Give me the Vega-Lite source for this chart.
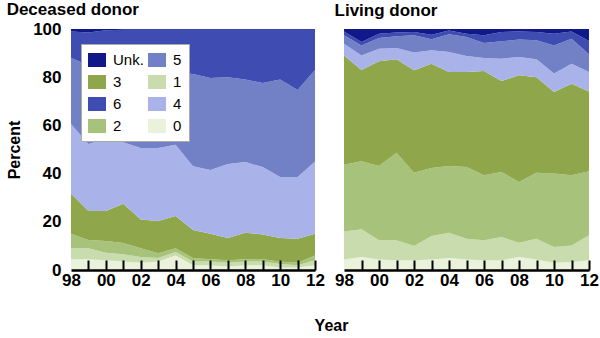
{
"$schema": "https://vega.github.io/schema/vega-lite/v6.json",
"padding": {"left": 6, "top": 1, "right": 5, "bottom": 5},
"background": "white",
"bounds": "flush",
"config": {"font": "Liberation Sans, Arial, sans-serif", "view": {"stroke": null}, "concat": {"spacing": 29}},
"data": {"values": [
{"p":"D","y":1998,"c":"0","v":4.5},{"p":"D","y":1998,"c":"1","v":4.5},{"p":"D","y":1998,"c":"2","v":6},{"p":"D","y":1998,"c":"3","v":16.7},{"p":"D","y":1998,"c":"4","v":28.9},{"p":"D","y":1998,"c":"5","v":27.4},{"p":"D","y":1998,"c":"6","v":11},{"p":"D","y":1998,"c":"Unk.","v":1},
{"p":"D","y":1999,"c":"0","v":4.5},{"p":"D","y":1999,"c":"1","v":4.5},{"p":"D","y":1999,"c":"2","v":3.4},{"p":"D","y":1999,"c":"3","v":12.1},{"p":"D","y":1999,"c":"4","v":27.8},{"p":"D","y":1999,"c":"5","v":32.7},{"p":"D","y":1999,"c":"6","v":13.5},{"p":"D","y":1999,"c":"Unk.","v":1.5},
{"p":"D","y":2000,"c":"0","v":4},{"p":"D","y":2000,"c":"1","v":3.2},{"p":"D","y":2000,"c":"2","v":4.8},{"p":"D","y":2000,"c":"3","v":12.5},{"p":"D","y":2000,"c":"4","v":30},{"p":"D","y":2000,"c":"5","v":29.5},{"p":"D","y":2000,"c":"6","v":15.5},{"p":"D","y":2000,"c":"Unk.","v":0.5},
{"p":"D","y":2001,"c":"0","v":3.5},{"p":"D","y":2001,"c":"1","v":3},{"p":"D","y":2001,"c":"2","v":4.7},{"p":"D","y":2001,"c":"3","v":16.3},{"p":"D","y":2001,"c":"4","v":25.5},{"p":"D","y":2001,"c":"5","v":30},{"p":"D","y":2001,"c":"6","v":16.7},{"p":"D","y":2001,"c":"Unk.","v":0.3},
{"p":"D","y":2002,"c":"0","v":3},{"p":"D","y":2002,"c":"1","v":2.4},{"p":"D","y":2002,"c":"2","v":3.6},{"p":"D","y":2002,"c":"3","v":12},{"p":"D","y":2002,"c":"4","v":29.6},{"p":"D","y":2002,"c":"5","v":31.4},{"p":"D","y":2002,"c":"6","v":17.7},{"p":"D","y":2002,"c":"Unk.","v":0.3},
{"p":"D","y":2003,"c":"0","v":3.5},{"p":"D","y":2003,"c":"1","v":1.5},{"p":"D","y":2003,"c":"2","v":2},{"p":"D","y":2003,"c":"3","v":13.3},{"p":"D","y":2003,"c":"4","v":30.3},{"p":"D","y":2003,"c":"5","v":31.4},{"p":"D","y":2003,"c":"6","v":17.7},{"p":"D","y":2003,"c":"Unk.","v":0.3},
{"p":"D","y":2004,"c":"0","v":6},{"p":"D","y":2004,"c":"1","v":1.5},{"p":"D","y":2004,"c":"2","v":1.5},{"p":"D","y":2004,"c":"3","v":13.4},{"p":"D","y":2004,"c":"4","v":29.6},{"p":"D","y":2004,"c":"5","v":30},{"p":"D","y":2004,"c":"6","v":17.7},{"p":"D","y":2004,"c":"Unk.","v":0.3},
{"p":"D","y":2005,"c":"0","v":2},{"p":"D","y":2005,"c":"1","v":1.5},{"p":"D","y":2005,"c":"2","v":1.5},{"p":"D","y":2005,"c":"3","v":11.6},{"p":"D","y":2005,"c":"4","v":26.4},{"p":"D","y":2005,"c":"5","v":38.3},{"p":"D","y":2005,"c":"6","v":18.4},{"p":"D","y":2005,"c":"Unk.","v":0.3},
{"p":"D","y":2006,"c":"0","v":2},{"p":"D","y":2006,"c":"1","v":1.5},{"p":"D","y":2006,"c":"2","v":1},{"p":"D","y":2006,"c":"3","v":10.5},{"p":"D","y":2006,"c":"4","v":26.5},{"p":"D","y":2006,"c":"5","v":38.2},{"p":"D","y":2006,"c":"6","v":20},{"p":"D","y":2006,"c":"Unk.","v":0.3},
{"p":"D","y":2007,"c":"0","v":1.5},{"p":"D","y":2007,"c":"1","v":1.5},{"p":"D","y":2007,"c":"2","v":1},{"p":"D","y":2007,"c":"3","v":9.3},{"p":"D","y":2007,"c":"4","v":30.7},{"p":"D","y":2007,"c":"5","v":36},{"p":"D","y":2007,"c":"6","v":19.7},{"p":"D","y":2007,"c":"Unk.","v":0.3},
{"p":"D","y":2008,"c":"0","v":2},{"p":"D","y":2008,"c":"1","v":1.5},{"p":"D","y":2008,"c":"2","v":1},{"p":"D","y":2008,"c":"3","v":11},{"p":"D","y":2008,"c":"4","v":29.3},{"p":"D","y":2008,"c":"5","v":34.2},{"p":"D","y":2008,"c":"6","v":20.7},{"p":"D","y":2008,"c":"Unk.","v":0.3},
{"p":"D","y":2009,"c":"0","v":2},{"p":"D","y":2009,"c":"1","v":1.5},{"p":"D","y":2009,"c":"2","v":1},{"p":"D","y":2009,"c":"3","v":10.2},{"p":"D","y":2009,"c":"4","v":28},{"p":"D","y":2009,"c":"5","v":34.9},{"p":"D","y":2009,"c":"6","v":22.1},{"p":"D","y":2009,"c":"Unk.","v":0.3},
{"p":"D","y":2010,"c":"0","v":1},{"p":"D","y":2010,"c":"1","v":1.5},{"p":"D","y":2010,"c":"2","v":1},{"p":"D","y":2010,"c":"3","v":9.8},{"p":"D","y":2010,"c":"4","v":25.3},{"p":"D","y":2010,"c":"5","v":40.4},{"p":"D","y":2010,"c":"6","v":20.7},{"p":"D","y":2010,"c":"Unk.","v":0.3},
{"p":"D","y":2011,"c":"0","v":1},{"p":"D","y":2011,"c":"1","v":1},{"p":"D","y":2011,"c":"2","v":1},{"p":"D","y":2011,"c":"3","v":10},{"p":"D","y":2011,"c":"4","v":25.6},{"p":"D","y":2011,"c":"5","v":36.1},{"p":"D","y":2011,"c":"6","v":25},{"p":"D","y":2011,"c":"Unk.","v":0.3},
{"p":"D","y":2012,"c":"0","v":2},{"p":"D","y":2012,"c":"1","v":2},{"p":"D","y":2012,"c":"2","v":2},{"p":"D","y":2012,"c":"3","v":9},{"p":"D","y":2012,"c":"4","v":30},{"p":"D","y":2012,"c":"5","v":38},{"p":"D","y":2012,"c":"6","v":16.7},{"p":"D","y":2012,"c":"Unk.","v":0.3},
{"p":"L","y":1998,"c":"0","v":4.4},{"p":"L","y":1998,"c":"1","v":11.6},{"p":"L","y":1998,"c":"2","v":27.7},{"p":"L","y":1998,"c":"3","v":45.3},{"p":"L","y":1998,"c":"4","v":4.9},{"p":"L","y":1998,"c":"5","v":3.5},{"p":"L","y":1998,"c":"6","v":1.6},{"p":"L","y":1998,"c":"Unk.","v":1},
{"p":"L","y":1999,"c":"0","v":5.4},{"p":"L","y":1999,"c":"1","v":11.5},{"p":"L","y":1999,"c":"2","v":28.2},{"p":"L","y":1999,"c":"3","v":37.9},{"p":"L","y":1999,"c":"4","v":6},{"p":"L","y":1999,"c":"5","v":4.2},{"p":"L","y":1999,"c":"6","v":1.4},{"p":"L","y":1999,"c":"Unk.","v":5.4},
{"p":"L","y":2000,"c":"0","v":4.4},{"p":"L","y":2000,"c":"1","v":7.9},{"p":"L","y":2000,"c":"2","v":30.9},{"p":"L","y":2000,"c":"3","v":43.4},{"p":"L","y":2000,"c":"4","v":5.2},{"p":"L","y":2000,"c":"5","v":4.5},{"p":"L","y":2000,"c":"6","v":1.7},{"p":"L","y":2000,"c":"Unk.","v":2},
{"p":"L","y":2001,"c":"0","v":4},{"p":"L","y":2001,"c":"1","v":8.3},{"p":"L","y":2001,"c":"2","v":36.4},{"p":"L","y":2001,"c":"3","v":38.7},{"p":"L","y":2001,"c":"4","v":4.7},{"p":"L","y":2001,"c":"5","v":4.9},{"p":"L","y":2001,"c":"6","v":1.5},{"p":"L","y":2001,"c":"Unk.","v":1.5},
{"p":"L","y":2002,"c":"0","v":4},{"p":"L","y":2002,"c":"1","v":6},{"p":"L","y":2002,"c":"2","v":30.4},{"p":"L","y":2002,"c":"3","v":42.5},{"p":"L","y":2002,"c":"4","v":7.3},{"p":"L","y":2002,"c":"5","v":7.2},{"p":"L","y":2002,"c":"6","v":1.4},{"p":"L","y":2002,"c":"Unk.","v":1.2},
{"p":"L","y":2003,"c":"0","v":4.4},{"p":"L","y":2003,"c":"1","v":9.7},{"p":"L","y":2003,"c":"2","v":28.2},{"p":"L","y":2003,"c":"3","v":43.3},{"p":"L","y":2003,"c":"4","v":5.6},{"p":"L","y":2003,"c":"5","v":4.5},{"p":"L","y":2003,"c":"6","v":1.9},{"p":"L","y":2003,"c":"Unk.","v":2.4},
{"p":"L","y":2004,"c":"0","v":5},{"p":"L","y":2004,"c":"1","v":10.5},{"p":"L","y":2004,"c":"2","v":27.7},{"p":"L","y":2004,"c":"3","v":39},{"p":"L","y":2004,"c":"4","v":8.3},{"p":"L","y":2004,"c":"5","v":7.3},{"p":"L","y":2004,"c":"6","v":1.6},{"p":"L","y":2004,"c":"Unk.","v":0.6},
{"p":"L","y":2005,"c":"0","v":4.4},{"p":"L","y":2005,"c":"1","v":8.6},{"p":"L","y":2005,"c":"2","v":29.7},{"p":"L","y":2005,"c":"3","v":39.5},{"p":"L","y":2005,"c":"4","v":6.6},{"p":"L","y":2005,"c":"5","v":7.9},{"p":"L","y":2005,"c":"6","v":1.3},{"p":"L","y":2005,"c":"Unk.","v":2},
{"p":"L","y":2006,"c":"0","v":4},{"p":"L","y":2006,"c":"1","v":8.3},{"p":"L","y":2006,"c":"2","v":27},{"p":"L","y":2006,"c":"3","v":43.3},{"p":"L","y":2006,"c":"4","v":5.4},{"p":"L","y":2006,"c":"5","v":6.2},{"p":"L","y":2006,"c":"6","v":3.2},{"p":"L","y":2006,"c":"Unk.","v":2.6},
{"p":"L","y":2007,"c":"0","v":4},{"p":"L","y":2007,"c":"1","v":9.7},{"p":"L","y":2007,"c":"2","v":27},{"p":"L","y":2007,"c":"3","v":37.7},{"p":"L","y":2007,"c":"4","v":9.3},{"p":"L","y":2007,"c":"5","v":7.2},{"p":"L","y":2007,"c":"6","v":3.9},{"p":"L","y":2007,"c":"Unk.","v":1.2},
{"p":"L","y":2008,"c":"0","v":5.4},{"p":"L","y":2008,"c":"1","v":5.9},{"p":"L","y":2008,"c":"2","v":25.2},{"p":"L","y":2008,"c":"3","v":44.3},{"p":"L","y":2008,"c":"4","v":7.6},{"p":"L","y":2008,"c":"5","v":7.2},{"p":"L","y":2008,"c":"6","v":3.4},{"p":"L","y":2008,"c":"Unk.","v":1},
{"p":"L","y":2009,"c":"0","v":4.4},{"p":"L","y":2009,"c":"1","v":8.6},{"p":"L","y":2009,"c":"2","v":27.4},{"p":"L","y":2009,"c":"3","v":39.6},{"p":"L","y":2009,"c":"4","v":7.4},{"p":"L","y":2009,"c":"5","v":7.9},{"p":"L","y":2009,"c":"6","v":3.5},{"p":"L","y":2009,"c":"Unk.","v":1.2},
{"p":"L","y":2010,"c":"0","v":3},{"p":"L","y":2010,"c":"1","v":6.5},{"p":"L","y":2010,"c":"2","v":30.5},{"p":"L","y":2010,"c":"3","v":33.9},{"p":"L","y":2010,"c":"4","v":7.6},{"p":"L","y":2010,"c":"5","v":11.7},{"p":"L","y":2010,"c":"6","v":4.8},{"p":"L","y":2010,"c":"Unk.","v":2},
{"p":"L","y":2011,"c":"0","v":3.3},{"p":"L","y":2011,"c":"1","v":6.9},{"p":"L","y":2011,"c":"2","v":29.1},{"p":"L","y":2011,"c":"3","v":38},{"p":"L","y":2011,"c":"4","v":8.3},{"p":"L","y":2011,"c":"5","v":10.4},{"p":"L","y":2011,"c":"6","v":3},{"p":"L","y":2011,"c":"Unk.","v":1},
{"p":"L","y":2012,"c":"0","v":4},{"p":"L","y":2012,"c":"1","v":10.4},{"p":"L","y":2012,"c":"2","v":26.6},{"p":"L","y":2012,"c":"3","v":33.1},{"p":"L","y":2012,"c":"4","v":8.1},{"p":"L","y":2012,"c":"5","v":7.3},{"p":"L","y":2012,"c":"6","v":5.5},{"p":"L","y":2012,"c":"Unk.","v":5}
]},
"hconcat": [
{
"width": 244, "height": 241,
"title": {"text": "Deceased donor", "anchor": "start", "fontSize": 17, "fontWeight": "bold", "color": "black", "offset": 1},
"transform": [{"filter": "datum.p == 'D'"}],
"mark": {"type": "area", "interpolate": "linear"},
"encoding": {
"x": {"field": "y", "type": "quantitative", "scale": {"domain": [1998, 2012], "nice": false, "zero": false},
 "axis": {"values": [1998,1999,2000,2001,2002,2003,2004,2005,2006,2007,2008,2009,2010,2011,2012],
 "labelExpr": "datum.value % 2 == 0 ? slice(toString(datum.value), 2) : ''",
 "tickSize": -10, "tickWidth": 2, "tickColor": {"condition": {"test": "datum.value == 1998", "value": "transparent"}, "value": "black"},
 "domainColor": "black", "domainWidth": 2.5, "labelFontSize": 17, "labelFontWeight": "bold", "labelColor": "black", "labelPadding": 12,
 "labelOverlap": false, "labelFlush": false, "grid": false, "zindex": 1,
 "title": "Year", "titleX": 260, "titleY": 60, "titleBaseline": "alphabetic", "titleFontSize": 16, "titleFontWeight": "bold", "titleColor": "black"}},
"y": {"field": "v", "type": "quantitative", "stack": "zero", "scale": {"domain": [0, 100], "nice": false},
 "axis": {"values": [0,20,40,60,80,100], "domain": false, "ticks": false, "grid": false, "labelFontSize": 17, "labelFontWeight": "bold", "labelColor": "black", "labelPadding": 10,
 "title": "Percent", "titleFontSize": 16, "titleFontWeight": "bold", "titleColor": "black", "titlePadding": 10}},
"order": {"field": "c", "type": "ordinal", "sort": "ascending"},
"color": {"field": "c", "type": "nominal",
 "scale": {"domain": ["0","1","2","3","4","5","6","Unk."], "range": ["#ebf2dc","#c9dcae","#a7c27a","#8fa64b","#a9b3ea","#7281c6","#3f4db3","#10188a"]},
 "legend": {"orient": "none", "legendX": 10, "legendY": 15, "columns": 2, "values": ["Unk.","3","6","2","5","1","4","0"], "title": null,
  "fillColor": "white", "strokeColor": "#aaaaaa", "padding": 7, "symbolType": "M-1,-0.78H1V0.78H-1Z", "symbolSize": 324, "symbolStrokeWidth": 0, "symbolOpacity": 1,
  "labelFontSize": 15, "labelOffset": 7, "columnPadding": 4, "rowPadding": 5, "labelColor": "black"}}
}
},
{
"width": 245, "height": 241,
"title": {"text": "Living donor", "anchor": "start", "fontSize": 17, "fontWeight": "bold", "color": "black", "offset": 9.5},
"transform": [{"filter": "datum.p == 'L'"}],
"mark": {"type": "area", "interpolate": "linear"},
"encoding": {
"x": {"field": "y", "type": "quantitative", "scale": {"domain": [1998, 2012], "nice": false, "zero": false},
 "axis": {"values": [1998,1999,2000,2001,2002,2003,2004,2005,2006,2007,2008,2009,2010,2011,2012],
 "labelExpr": "datum.value % 2 == 0 ? slice(toString(datum.value), 2) : ''",
 "tickSize": -10, "tickWidth": 2, "tickColor": {"condition": {"test": "datum.value == 1998", "value": "transparent"}, "value": "black"},
 "domainColor": "black", "domainWidth": 2.5, "labelFontSize": 17, "labelFontWeight": "bold", "labelColor": "black", "labelPadding": 12,
 "labelOverlap": false, "labelFlush": false, "grid": false, "zindex": 1, "title": null}},
"y": {"field": "v", "type": "quantitative", "stack": "zero", "scale": {"domain": [0, 100], "nice": false}, "axis": null},
"order": {"field": "c", "type": "ordinal", "sort": "ascending"},
"color": {"field": "c", "type": "nominal",
 "scale": {"domain": ["0","1","2","3","4","5","6","Unk."], "range": ["#ebf2dc","#c9dcae","#a7c27a","#8fa64b","#a9b3ea","#7281c6","#3f4db3","#10188a"]},
 "legend": null}
}
}
],
"resolve": {"legend": {"color": "independent"}}
}
